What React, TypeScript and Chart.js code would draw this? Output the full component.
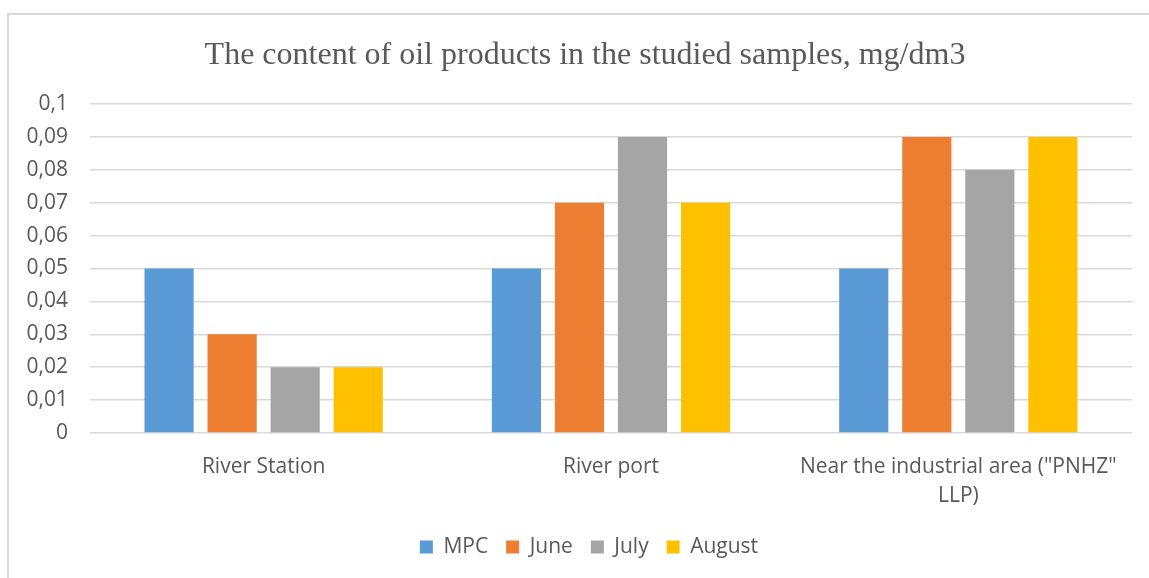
import React, { useEffect, useRef } from "react";
import { Chart, registerables } from "chart.js";

Chart.register(...registerables);

const categories: (string | string[])[] = [
  "River Station",
  "River port",
  ['Near the industrial area ("PNHZ"', "LLP)"],
];
const seriesNames = ["MPC", "June", "July", "August"];
const mpcValues = [0.05, 0.05, 0.05];
const juneValues = [0.03, 0.07, 0.09];
const julyValues = [0.02, 0.09, 0.08];
const augustValues = [0.02, 0.07, 0.09];
const seriesColors = ["#5b9bd5", "#ed7d31", "#a5a5a5", "#ffc000"];
const yTickLabels = ["0", "0,01", "0,02", "0,03", "0,04", "0,05", "0,06", "0,07", "0,08", "0,09", "0,1"];
const titleText = "The content of oil products in the studied samples, mg/dm3";

const W = 1149;
const H = 578;
const TEXT = "#595959";
const GRID = "#d9d9d9";
const SANS = "'Open Sans', 'Noto Sans', sans-serif";
const LEGEND_SHIFT = 46;

const titlePlugin = {
  id: "customTitle",
  afterLayout(chart: any) {
    if (chart.legend) {
      chart.legend.left += LEGEND_SHIFT;
    }
  },
  afterDraw(chart: any) {
    const ctx = chart.ctx;
    ctx.save();
    ctx.fillStyle = TEXT;
    ctx.font = "normal 32px 'Liberation Serif', 'Times New Roman', serif";
    ctx.textAlign = "center";
    ctx.textBaseline = "alphabetic";
    ctx.fillText(titleText, 585, 64);
    ctx.restore();
  },
};

export default function App() {
  const ref = useRef<HTMLCanvasElement | null>(null);

  useEffect(() => {
    if (!ref.current) return;
    const allValues = [mpcValues, juneValues, julyValues, augustValues];
    const chart = new Chart(ref.current, {
      type: "bar",
      data: {
        labels: categories,
        datasets: seriesNames.map((name, i) => ({
          label: name,
          data: allValues[i],
          backgroundColor: seriesColors[i],
          borderWidth: 0,
          categoryPercentage: 0.726,
          barPercentage: 0.78,
        })),
      },
      plugins: [titlePlugin],
      options: {
        responsive: false,
        animation: false,
        layout: { padding: { left: 0, right: 17, top: 104, bottom: 10.5 } },
        plugins: {
          tooltip: { enabled: false },
          title: { display: false },
          legend: {
            position: "bottom",
            labels: {
              color: TEXT,
              font: { family: SANS, size: 21 },
              boxWidth: 13,
              boxHeight: 13,
              padding: 18,
            },
          },
        },
        scales: {
          x: {
            grid: { display: false },
            border: { display: false },
            ticks: {
              color: TEXT,
              font: { family: SANS, size: 21, lineHeight: 1.38 },
              padding: 11.5,
              maxRotation: 0,
              autoSkip: false,
            },
            afterFit: (scale: any) => {
              scale.height = 85.5;
            },
          },
          y: {
            min: 0,
            max: 0.1,
            grid: { color: GRID, lineWidth: 1.5, drawTicks: false },
            border: { display: false },
            ticks: {
              stepSize: 0.01,
              color: TEXT,
              font: { family: SANS, size: 21 },
              padding: 22,
              callback: (_v: any, index: number) => yTickLabels[index],
            },
            afterFit: (scale: any) => {
              scale.width = 90;
            },
          },
        },
      },
    });
    return () => chart.destroy();
  }, []);

  return (
    <>
      <div
        style={{
          position: "fixed",
          left: 7,
          top: 13,
          width: W - 7,
          height: H - 13,
          borderLeft: `2px solid ${GRID}`,
          borderTop: `2px solid ${GRID}`,
          boxSizing: "border-box",
        }}
      />
      <div style={{ position: "fixed", left: 0, top: 0, width: W, height: H }}>
        <canvas ref={ref} width={W} height={H} style={{ width: W, height: H, display: "block" }} />
      </div>
    </>
  );
}
